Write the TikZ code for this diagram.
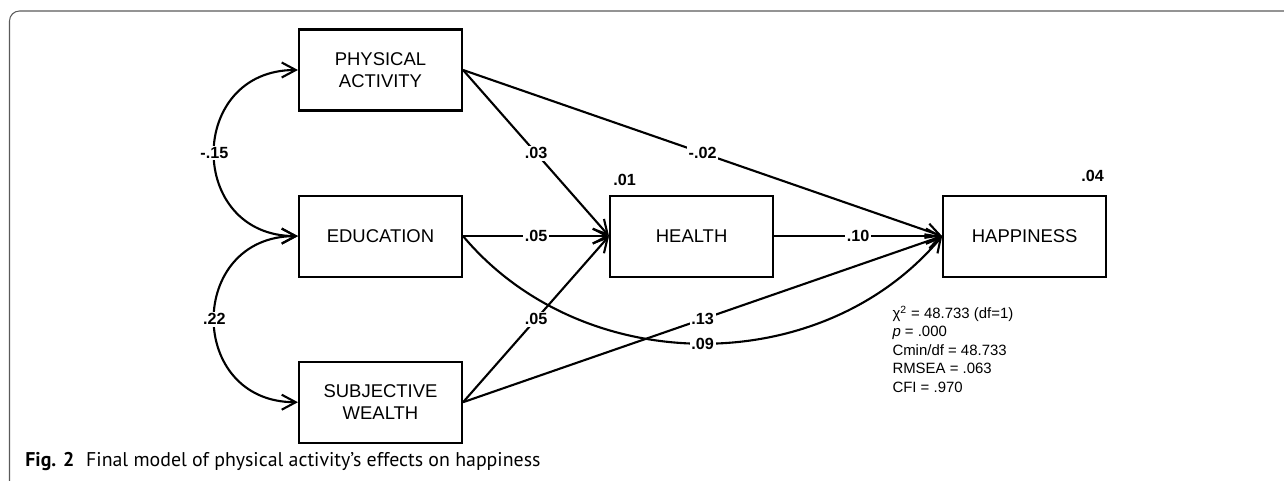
\documentclass[tikz,border=0pt]{standalone}
\usepackage{fontspec}
\setmainfont{Liberation Sans}
\newfontfamily\capfont{PT Sans}
\usetikzlibrary{arrows.meta, positioning}
\definecolor{cFrame}{RGB}{90,90,90}
\tikzset{
	var/.style ={rectangle, draw=black, line width=1.2pt, minimum width=3.26cm, minimum height=1.62cm, align=center, inner sep=2pt, font=\fontsize{10.5}{12.5}\selectfont},
	sig/.style ={-{Straight Barb[length=2.8mm, width=3mm]}, line width=1.2pt},
	cov/.style ={{Straight Barb[length=2.8mm, width=3mm]}-{Straight Barb[length=2.8mm, width=3mm]}, line width=1.2pt},
	elab/.style={fill=white, inner sep=1pt, font=\fontsize{9.2}{10}\selectfont\bfseries},
	rlab/.style={inner sep=0pt, font=\fontsize{9.2}{10}\selectfont\bfseries},
}
\begin{document}
\begin{tikzpicture}
	\useasboundingbox (0,0) rectangle (25.68,-9.62);
	% frame and caption
	\draw[cFrame, line width=0.6pt, rounded corners=0.2cm] (0.19,-9.62) -- (0.19,-0.22) -- (25.68,-0.22);
	\node[anchor=west, inner sep=0pt, font=\capfont\fontsize{11.3}{13}\selectfont] (cap) at (0.50,-9.24) {\textbf{Fig. 2}\hspace{0.6em}Final model of physical activity’s effects on happiness};
	% variables
	\node[var] (pa) at (7.61,-1.40) {PHYSICAL\\ ACTIVITY};
	\node[var, below=1.66cm of pa] (edu) {EDUCATION};
	\node[var, below=1.66cm of edu] (sw) {SUBJECTIVE\\ WEALTH};
	\node[var, right=2.92cm of edu] (health) {HEALTH};
	\node[var, right=3.36cm of health] (happy) {HAPPINESS};
	% squared multiple correlations
	\node[rlab, anchor=south west] (r2health) at ([xshift=0.08cm, yshift=0.17cm]health.north west) {.01};
	\node[rlab, anchor=south east] (r2happy) at ([xshift=-0.06cm, yshift=0.26cm]happy.north east) {.04};
	% paths
	\draw[sig] (pa.east) -- node[elab] {.03} (health.west);
	\draw[sig] (edu.east) -- node[elab] {.05} (health.west);
	\draw[sig] (sw.east) -- node[elab] {.05} (health.west);
	\draw[sig] (pa.east) -- node[elab] {-.02} (happy.west);
	\draw[sig] (health.east) -- node[elab] {.10} (happy.west);
	\draw[sig] (sw.east) -- node[elab] {.13} (happy.west);
	\draw[sig] (edu.east) to[out=-50, in=-130] node[elab] {.09} (happy.west);
	% covariances
	\draw[cov] (pa.west) to[out=180, in=180, looseness=1.72] node[elab] {-.15} (edu.west);
	\draw[cov] (edu.west) to[out=180, in=180, looseness=1.72] node[elab] {.22} (sw.west);
	% fit indices
	\node[anchor=north west, align=left, inner sep=0pt, font=\fontsize{8.5}{10.5}\selectfont] (fit) at ([xshift=-1.0cm, yshift=-0.56cm]happy.south west) {χ\textsuperscript{2} = 48.733 (df=1)\\ \textit{p} = .000\\ Cmin/df = 48.733\\ RMSEA = .063\\ CFI = .970};
\end{tikzpicture}
\end{document}
